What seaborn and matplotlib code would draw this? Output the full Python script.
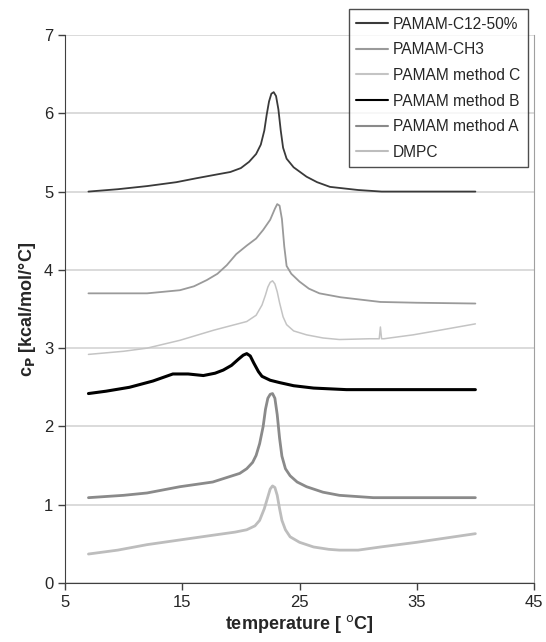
import matplotlib
matplotlib.use("Agg")
import matplotlib.pyplot as plt
import seaborn as sns
import pandas as pd

# temperature [C] / cp [kcal/mol/C]
t_c12 = [7.0, 9.5, 12.0, 14.5, 16.2, 18.0, 19.1, 20.0, 20.7, 21.3, 21.7, 22.0, 22.2, 22.4,
         22.6, 22.8, 23.0, 23.2, 23.4, 23.6, 23.9, 24.5, 25.6, 26.5, 27.6, 30.0, 32.0, 36.0, 40.0]
cp_c12 = [5.00, 5.03, 5.07, 5.12, 5.17, 5.22, 5.25, 5.30, 5.38, 5.48, 5.60, 5.78, 5.98, 6.15,
          6.25, 6.27, 6.22, 6.05, 5.78, 5.56, 5.42, 5.31, 5.19, 5.12, 5.06, 5.02, 5.00, 5.00, 5.00]

t_ch3 = [7.0, 10.0, 12.0, 14.8, 16.0, 17.1, 18.0, 18.8, 19.6, 20.5, 21.3, 21.9, 22.5, 22.9,
         23.1, 23.3, 23.5, 23.7, 23.9, 24.3, 25.0, 25.8, 26.7, 28.5, 31.9, 35.0, 40.0]
cp_ch3 = [3.70, 3.70, 3.70, 3.74, 3.79, 3.87, 3.95, 4.06, 4.20, 4.31, 4.40, 4.51, 4.64, 4.78,
          4.84, 4.82, 4.65, 4.30, 4.05, 3.95, 3.85, 3.76, 3.70, 3.65, 3.59, 3.58, 3.57]

t_mc = [7.0, 10.0, 12.0, 14.8, 17.7, 20.5, 21.3, 21.8, 22.1, 22.3, 22.5, 22.7, 22.9, 23.1,
        23.3, 23.6, 23.9, 24.5, 25.6, 27.0, 28.4, 31.0, 31.8, 31.9, 32.0, 32.2, 34.7, 37.0, 40.0]
cp_mc = [2.92, 2.96, 3.00, 3.10, 3.23, 3.34, 3.42, 3.55, 3.68, 3.78, 3.84, 3.86, 3.82, 3.72,
         3.58, 3.40, 3.30, 3.22, 3.17, 3.13, 3.11, 3.12, 3.12, 3.27, 3.12, 3.12, 3.17, 3.23, 3.31]

t_mb = [7.0, 8.5, 10.5, 12.5, 14.2, 15.5, 16.8, 17.8, 18.5, 19.2, 19.8, 20.2, 20.5, 20.8,
        21.1, 21.5, 21.8, 22.5, 23.3, 24.5, 26.2, 29.0, 33.0, 40.0]
cp_mb = [2.42, 2.45, 2.50, 2.58, 2.67, 2.67, 2.65, 2.68, 2.72, 2.78, 2.86, 2.91, 2.93, 2.90,
         2.81, 2.70, 2.64, 2.59, 2.56, 2.52, 2.49, 2.47, 2.47, 2.47]

t_ma = [7.0, 10.0, 12.0, 14.8, 17.6, 19.9, 20.5, 21.0, 21.3, 21.6, 21.9, 22.1, 22.3, 22.5,
        22.7, 22.9, 23.1, 23.3, 23.5, 23.8, 24.2, 24.8, 25.6, 27.0, 28.4, 31.3, 35.0, 40.0]
cp_ma = [1.09, 1.12, 1.15, 1.23, 1.29, 1.40, 1.46, 1.54, 1.63, 1.78, 2.00, 2.22, 2.36, 2.41,
         2.42, 2.36, 2.15, 1.85, 1.62, 1.46, 1.37, 1.29, 1.23, 1.16, 1.12, 1.09, 1.09, 1.09]

t_dmpc = [7.0, 9.5, 12.0, 14.8, 17.6, 19.5, 20.5, 21.2, 21.6, 22.0, 22.3, 22.5, 22.7, 22.9,
          23.1, 23.3, 23.5, 23.8, 24.2, 25.0, 26.2, 27.5, 28.4, 30.0, 31.9, 35.0, 40.0]
cp_dmpc = [0.37, 0.42, 0.49, 0.55, 0.61, 0.65, 0.68, 0.73, 0.80, 0.95, 1.10, 1.20, 1.24, 1.22,
           1.12, 0.95, 0.80, 0.68, 0.59, 0.52, 0.46, 0.43, 0.42, 0.42, 0.46, 0.52, 0.63]

names = ["PAMAM-C12-50%", "PAMAM-CH3", "PAMAM method C", "PAMAM method B",
         "PAMAM method A", "DMPC"]
temps = [t_c12, t_ch3, t_mc, t_mb, t_ma, t_dmpc]
cps = [cp_c12, cp_ch3, cp_mc, cp_mb, cp_ma, cp_dmpc]
colors = ["#3a3a3a", "#9a9a9a", "#c4c4c4", "#000000", "#8a8a8a", "#bdbdbd"]
widths = [1.3, 1.3, 1.1, 2.2, 2.0, 2.0]

sns.set_style("white")
plt.rcParams["font.family"] = ["Liberation Sans", "DejaVu Sans"]

fig = plt.figure(figsize=(5.46, 6.42), dpi=100)
ax = fig.add_axes([65 / 546, 1 - 583 / 642, (534 - 65) / 546, (583 - 35) / 642])

for name, t, cp, c, w in zip(names, temps, cps, colors, widths):
    df = pd.DataFrame({"temperature": t, "cp": cp})
    sns.lineplot(data=df, x="temperature", y="cp", ax=ax, color=c, linewidth=w,
                 label=name, sort=False)

ax.set_xlim(5, 45)
ax.set_ylim(0, 7)
ax.set_xticks([5, 15, 25, 35, 45])
ax.set_yticks(range(8))
ax.yaxis.grid(True, color="#d4d4d4", linewidth=1.2)
ax.set_axisbelow(True)
ax.spines["top"].set_visible(False)
ax.spines["right"].set_color("#a0a0a0")
ax.spines["left"].set_color("#404040")
ax.spines["bottom"].set_color("#404040")
ax.tick_params(axis="both", direction="out", length=5, width=1, color="#404040",
               labelsize=12, left=True, bottom=True)

ax.set_xlabel("temperature [ $^{\\mathrm{o}}$C]", fontsize=13, fontweight="bold", labelpad=2)
ax.set_ylabel("c$_{\\mathbf{P}}$ [kcal/mol/°C]", fontsize=13, fontweight="bold", labelpad=4)

leg = ax.legend(loc="upper right", bbox_to_anchor=(528 / 546, 1 - 9 / 642),
                bbox_transform=fig.transFigure, fontsize=11.2, frameon=True,
                fancybox=False, handlelength=2.0, borderpad=0.5, labelspacing=0.68,
                handletextpad=0.35, borderaxespad=0)
leg.get_frame().set_edgecolor("#222222")
leg.get_frame().set_linewidth(1.0)
for line in leg.get_lines():
    line.set_linewidth(1.5)

fig.savefig("out.png", dpi=100)
